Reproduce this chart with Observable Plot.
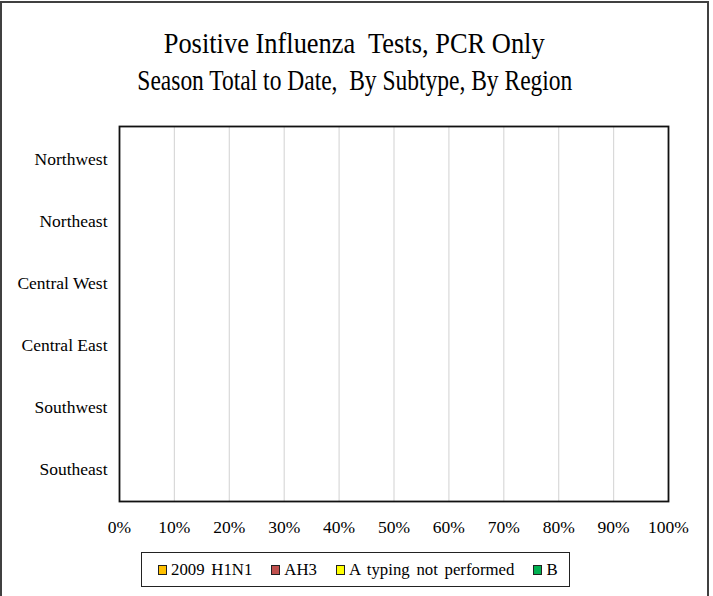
<!DOCTYPE html>
<html>
<head>
<meta charset="utf-8">
<script src="https://cdn.jsdelivr.net/npm/d3@7"></script>
<script src="https://cdn.jsdelivr.net/npm/@observablehq/plot@0.6"></script>
<style>
  html, body { margin: 0; padding: 0; background: #fff; }
  #wrap { position: relative; width: 713px; height: 596px; overflow: hidden; font-family: "Liberation Serif", "Times New Roman", serif; }
  #border { position: absolute; left: 0px; top: 1px; width: 709px; height: 610px; border: 2px solid #404040; box-sizing: border-box; }
  .tline { position: absolute; left: 0; width: 709px; text-align: center; font-size: 30px; line-height: 36px; color: #000; white-space: pre; }
  .tline span { display: inline-block; transform-origin: 50% 50%; }
  #chart { position: absolute; left: 0; top: 0; }
  #legend { position: absolute; left: 141px; top: 552px; width: 429px; height: 35px; border: 1.5px solid #222; box-sizing: border-box; display: flex; align-items: center; padding-left: 16px; font-size: 16.8px; word-spacing: 2.5px; color: #000; }
  .item { display: flex; align-items: center; margin-right: 19px; white-space: nowrap; }
  .sw { width: 7px; height: 8px; border: 1px solid #222; margin-right: 4px; }
</style>
</head>
<body>
<div id="wrap">
  <div id="border"></div>
  <div class="tline" id="t1" style="top:25px"><span>Positive Influenza  Tests, PCR Only</span></div>
  <div class="tline" id="t2" style="top:62px"><span>Season Total to Date,  By Subtype, By Region</span></div>
  <div id="chart"></div>
  <div id="legend"></div>
</div>
<script>
const regions = ["Northwest", "Northeast", "Central West", "Central East", "Southwest", "Southeast"];
const subtypes = ["2009 H1N1", "AH3", "A typing not performed", "B"];
const colors = ["#FFC000", "#C0504D", "#FFFF00", "#00B050"];
// Season totals to date: no positive tests shown in the chart (all zero)
const h1n1 = [0, 0, 0, 0, 0, 0];
const ah3 = [0, 0, 0, 0, 0, 0];
const aNotTyped = [0, 0, 0, 0, 0, 0];
const bValues = [0, 0, 0, 0, 0, 0];
const xTicks = [0, 0.1, 0.2, 0.3, 0.4, 0.5, 0.6, 0.7, 0.8, 0.9, 1.0];

// title lines: fit to the reference's compressed widths
[["t1", 381], ["t2", 435]].forEach(([id, w]) => {
  const s = document.querySelector("#" + id + " span");
  const nat = s.getBoundingClientRect().width;
  s.style.transform = "scaleX(" + (w / nat) + ")";
});

const series = [h1n1, ah3, aNotTyped, bValues];
const data = [];
regions.forEach((r, i) => {
  subtypes.forEach((s, j) => data.push({region: r, subtype: s, value: series[j][i]}));
});

const chart = Plot.plot({
  width: 713,
  height: 540,
  marginLeft: 119,
  marginRight: 45,
  marginTop: 126,
  marginBottom: 39,
  style: { fontFamily: "'Liberation Serif', 'Times New Roman', serif", fontSize: "17.5px", color: "#000", background: "transparent" },
  x: { domain: [0, 1], ticks: xTicks, tickFormat: d => Math.round(d * 100) + "%", tickSize: 0, tickPadding: 19, label: null },
  y: { domain: regions, tickSize: 0, tickPadding: 12, label: null, paddingInner: 0.4, paddingOuter: 0.2 },
  color: { domain: subtypes, range: colors },
  marks: [
    Plot.ruleX(xTicks.slice(1, -1), { stroke: "#d9d9d9", strokeWidth: 1.2 }),
    Plot.barX(data, Plot.stackX({ y: "region", x: "value", fill: "subtype", order: subtypes })),
    Plot.frame({ stroke: "#111", strokeWidth: 1.8 })
  ]
});
document.getElementById("chart").appendChild(chart);

const legend = document.getElementById("legend");
subtypes.forEach((s, i) => {
  const it = document.createElement("div");
  it.className = "item";
  const sw = document.createElement("div");
  sw.className = "sw";
  sw.style.background = colors[i];
  const t = document.createElement("span");
  t.textContent = s;
  it.appendChild(sw);
  it.appendChild(t);
  legend.appendChild(it);
});
</script>
</body>
</html>
